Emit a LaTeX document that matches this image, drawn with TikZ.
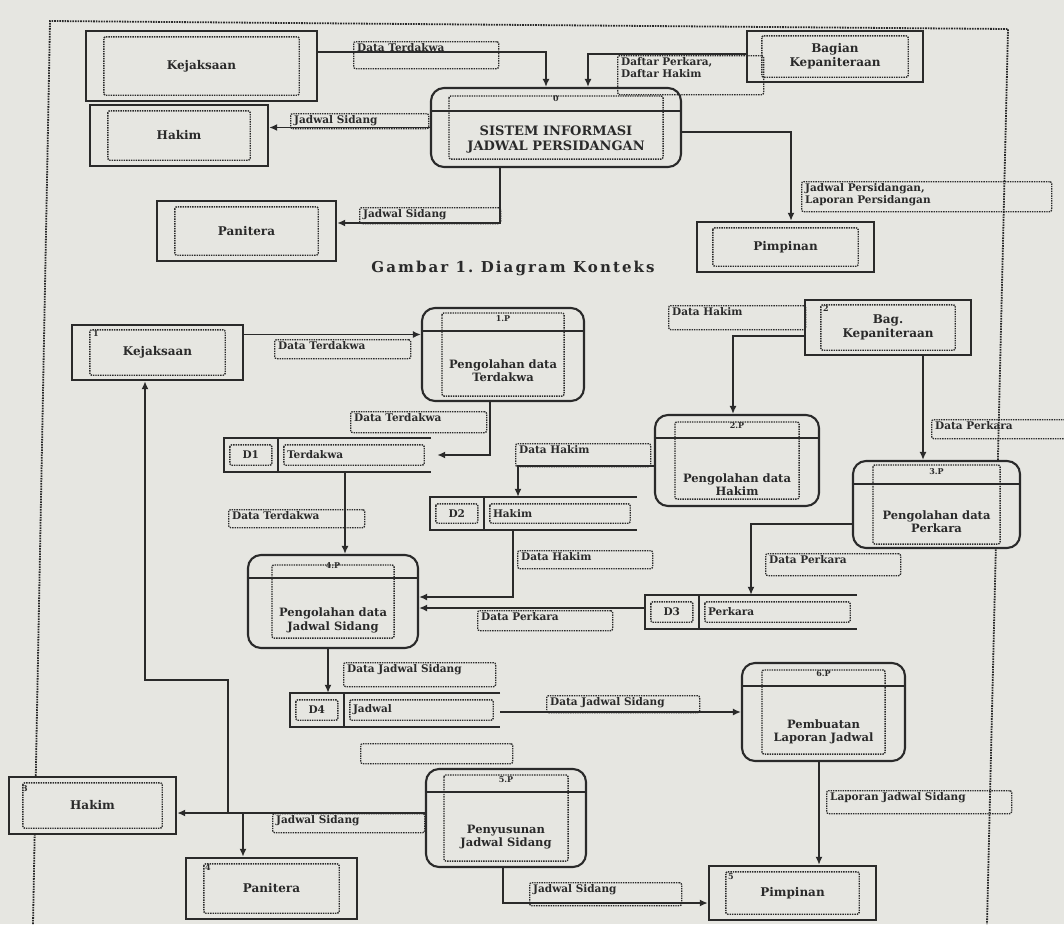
\documentclass[tikz,border=0pt]{standalone}
\usepackage{fontspec}
\setmainfont{DejaVu Serif}
\newfontfamily\capfont[LetterSpace=14]{DejaVu Serif}
\usetikzlibrary{arrows.meta,positioning}
\definecolor{paper}{HTML}{E6E6E1}
\definecolor{ink}{HTML}{2A2A2A}
\newcommand\dotin[3]{\draw[inbox] ([shift={(#2,#3)}]#1.north west) rectangle ([shift={(-#2,-#3)}]#1.south east);}
\newcommand\prochead[2]{\draw[ink,line width=1.5pt] ([yshift=-24pt]#1.north west) -- ([yshift=-24pt]#1.north east);\node[hd] (#1h) at ([yshift=-12pt]#1.north) {#2};}
\newcommand\store[3]{\draw[ink,line width=1.7pt] (#1.north east) -- (#1.north west) -- (#1.south west) -- (#1.south east);\draw[ink,line width=1.7pt] ([xshift=54pt]#1.north west) -- ([xshift=54pt]#1.south west);\draw[inbox] ([shift={(6,7)}]#1.north west) rectangle ([shift={(48,-7)}]#1.south west);\draw[inbox] ([shift={(60,7)}]#1.north west) rectangle ([shift={(-7,-7)}]#1.south east);\node[stx] (#1i) at ([xshift=27pt]#1.west) {#2};\node[stx,anchor=west] (#1n) at ([xshift=62pt]#1.west) {#3};}
\newcommand\lab[6]{\node[lbl,minimum width=#4pt,minimum height=#5pt] (#1) at (#2,#3) {};\node[ltx] (#1t) at ([shift={(3,1)}]#1.north west) {#6};}

\begin{document}
\begin{tikzpicture}[x=1pt,y=-1pt,
  ent/.style={draw=ink,fill=paper,line width=2.4pt,inner sep=0pt,align=center,text=ink,font=\fontsize{12}{14}\selectfont\bfseries},
  proc/.style={draw=ink,fill=paper,line width=2.1pt,rounded corners=13pt,inner sep=0pt},
  ptx/.style={align=center,text=ink,inner sep=1pt,font=\fontsize{11.5}{13.5}\selectfont\bfseries},
  hd/.style={text=ink,inner sep=1pt,font=\fontsize{8}{9}\selectfont\bfseries},
  num/.style={text=ink,inner sep=0pt,font=\fontsize{8}{9}\selectfont\bfseries},
  stx/.style={text=ink,inner sep=1pt,font=\fontsize{10.5}{12}\selectfont\bfseries},
  ds/.style={inner sep=0pt},
  inbox/.style={draw=ink,dash pattern=on 1.4pt off 1pt,line width=1.4pt,rounded corners=2pt},
  lbl/.style={draw=ink,dash pattern=on 1.4pt off 1pt,line width=1.3pt,rounded corners=2pt,anchor=north west,inner sep=0pt},
  ltx/.style={anchor=north west,align=left,text=ink,inner sep=1pt,font=\fontsize{10.5}{12}\selectfont\bfseries},
  frame/.style={draw=ink,dash pattern=on 1.6pt off 1pt,line width=1.8pt},
  flow/.style={draw=ink,line width=1.6pt,-{Latex[length=8pt,width=7pt]}}]
\fill[paper] (0,0) rectangle (1064,924);
\useasboundingbox (0,0) rectangle (1064,924);
\draw[frame] (33,924) -- (50,21) -- (1008,29) -- (987,924);

\node[ent,minimum width=231pt,minimum height=70pt] (kej) at (201.5,66) {Kejaksaan};
\node[ent,minimum width=178pt,minimum height=61pt] (hak) at (179,135.5) {Hakim};
\node[proc,minimum width=250pt,minimum height=79pt] (sys) at (556,127.5) {};
\node[ent,minimum width=176pt,minimum height=51pt] (bag) at (835,56.5) {Bagian\\Kepaniteraan};
\node[ent,minimum width=179pt,minimum height=60pt] (pan) at (246.5,231) {Panitera};
\node[ent,minimum width=177pt,minimum height=50pt] (pim) at (785.5,247) {Pimpinan};
\dotin{kej}{19}{7}\dotin{hak}{19}{7}\dotin{bag}{16}{6}\dotin{pan}{19}{7}\dotin{pim}{17}{7}\dotin{sys}{19}{9}
\prochead{sys}{0}
\node[ptx,font=\fontsize{13}{15}\selectfont\bfseries] (syst) at ([yshift=-12pt]sys.center) {SISTEM INFORMASI\\JADWAL PERSIDANGAN};
\node[text=ink,inner sep=0pt,font=\capfont\fontsize{15}{17}\selectfont\bfseries] (cap) at (513,268) {Gambar 1.~Diagram Konteks};

\lab{l1}{353}{41}{145}{27}{Data Terdakwa}
\lab{l2}{617}{55}{146}{39}{Daftar Perkara,\\Daftar Hakim}
\lab{l3}{290}{113}{138}{15}{Jadwal Sidang}
\lab{l4}{359}{207}{141}{16}{Jadwal Sidang}
\lab{l5}{801}{181}{250}{30}{Jadwal Persidangan,\\Laporan Persidangan}
\draw[flow] ([yshift=14pt]kej.east) -| ([xshift=-10pt]sys.north);
\draw[flow] ([yshift=2.5pt]bag.west) -| ([xshift=32pt]sys.north);
\draw[flow] (sys.west) -- (sys.west -| hak.east);
\draw[flow] ([xshift=-56pt]sys.south) |- ([yshift=8pt]pan.east);
\draw[flow] ([yshift=-4.5pt]sys.east) -| ([xshift=5.5pt]pim.north);

\node[ent,minimum width=171pt,minimum height=55pt] (kej1) at (157.5,352.5) {Kejaksaan};
\node[ent,minimum width=166pt,minimum height=55pt] (bag1) at (888,327.5) {Bag.\\Kepaniteraan};
\node[ent,minimum width=167pt,minimum height=57pt] (hak1) at (92.5,805.5) {Hakim};
\node[ent,minimum width=171pt,minimum height=61pt] (pan1) at (271.5,888.5) {Panitera};
\node[ent,minimum width=167pt,minimum height=54pt] (pim1) at (792.5,893) {Pimpinan};
\dotin{kej1}{19}{6}\dotin{bag1}{17}{6}\dotin{hak1}{15}{7}\dotin{pan1}{19}{7}\dotin{pim1}{18}{7}
\node[num] (kej1c) at ([shift={(25,10)}]kej1.north west) {1};
\node[num] (bag1c) at ([shift={(22,10)}]bag1.north west) {2};
\node[num] (hak1c) at ([shift={(17,13)}]hak1.north west) {3};
\node[num] (pan1c) at ([shift={(23,11)}]pan1.north west) {4};
\node[num] (pim1c) at ([shift={(23,12)}]pim1.north west) {5};

\node[proc,minimum width=162pt,minimum height=93pt] (p1) at (503,354.5) {};
\node[proc,minimum width=164pt,minimum height=91pt] (p2) at (737,460.5) {};
\node[proc,minimum width=167pt,minimum height=87pt] (p3) at (936.5,504.5) {};
\node[proc,minimum width=170pt,minimum height=93pt] (p4) at (333,601.5) {};
\node[proc,minimum width=160pt,minimum height=98pt] (p5) at (506,818) {};
\node[proc,minimum width=163pt,minimum height=98pt] (p6) at (823.5,712) {};
\dotin{p1}{21}{6}\dotin{p2}{21}{8}\dotin{p3}{21}{5}\dotin{p4}{25}{11}\dotin{p5}{19}{7}\dotin{p6}{21}{8}
\prochead{p1}{1.P}\prochead{p2}{2.P}\prochead{p3}{3.P}\prochead{p4}{4.P}\prochead{p5}{5.P}\prochead{p6}{6.P}
\node[ptx] (p1t) at ([yshift=-16pt]p1.center) {Pengolahan data\\Terdakwa};
\node[ptx] (p2t) at ([yshift=-24pt]p2.center) {Pengolahan data\\Hakim};
\node[ptx] (p3t) at ([yshift=-17pt]p3.center) {Pengolahan data\\Perkara};
\node[ptx] (p4t) at ([yshift=-19pt]p4.center) {Pengolahan data\\Jadwal Sidang};
\node[ptx] (p5t) at ([yshift=-19pt]p5.center) {Penyusunan\\Jadwal Sidang};
\node[ptx] (p6t) at ([yshift=-20pt]p6.center) {Pembuatan\\Laporan Jadwal};

\node[ds,minimum width=207pt,minimum height=34pt] (d1) at (327.5,455) {};
\node[ds,minimum width=207pt,minimum height=33pt] (d2) at (533.5,513.5) {};
\node[ds,minimum width=212pt,minimum height=34pt] (d3) at (751,612) {};
\node[ds,minimum width=210pt,minimum height=34pt] (d4) at (395,710) {};
\store{d1}{D1}{Terdakwa}\store{d2}{D2}{Hakim}\store{d3}{D3}{Perkara}\store{d4}{D4}{Jadwal}

\lab{l6}{274}{339}{136}{19}{Data Terdakwa}
\lab{l7}{350}{411}{136}{21}{Data Terdakwa}
\lab{l8}{668}{305}{137}{24}{Data Hakim}
\lab{l9}{931}{419}{140}{19}{Data Perkara}
\lab{l10}{515}{443}{135}{23}{Data Hakim}
\lab{l11}{228}{509}{136}{18}{Data Terdakwa}
\lab{l12}{517}{550}{135}{18}{Data Hakim}
\lab{l13}{765}{553}{135}{22}{Data Perkara}
\lab{l14}{477}{610}{135}{20}{Data Perkara}
\lab{l15}{343}{662}{152}{24}{Data Jadwal Sidang}
\lab{l16}{546}{695}{153}{17}{Data Jadwal Sidang}
\lab{l17}{826}{790}{185}{23}{Laporan Jadwal Sidang}
\node[lbl,minimum width=152pt,minimum height=20pt] (l18) at (360,743) {};
\lab{l19}{272}{813}{152}{19}{Jadwal Sidang}
\lab{l20}{529}{882}{152}{23}{Jadwal Sidang}

\coordinate (j1) at (228,813);\coordinate (j2) at (243,813);\coordinate (k1) at (228,680);
\draw[flow] ([yshift=18pt]kej1.east) -- ([yshift=18pt]kej1.east -| p1.west);
\draw[flow] ([xshift=-13pt]p1.south) |- ([xshift=6pt]d1.east);
\draw[flow] ([yshift=-8.5pt]bag1.west) -| ([xshift=-4pt]p2.north);
\draw[flow] ([xshift=35pt]bag1.south) -- ([xshift=35pt]bag1.south |- p3.north);
\draw[flow] ([yshift=-5.5pt]p2.west) -| ([xshift=-15.5pt]d2.north);
\draw[flow] ([xshift=17.5pt]d1.south) -- ([xshift=17.5pt]d1.south |- p4.north);
\draw[flow] ([xshift=-20.5pt]d2.south) |- ([yshift=4.5pt]p4.east);
\draw[flow] ([yshift=-19.5pt]p3.west) -| (d3.north);
\draw[flow] ([yshift=4pt]d3.west) -- ([yshift=4pt]d3.west -| p4.east);
\draw[flow] ([xshift=-5pt]p4.south) -- ([xshift=-5pt]p4.south |- d4.north);
\draw[flow] ([yshift=-2pt]d4.east) -- ([yshift=-2pt]d4.east -| p6.west);
\draw[flow] ([xshift=-4.5pt]p6.south) -- ([xshift=-4.5pt]p6.south |- pim1.north);
\draw[flow] ([yshift=5pt]p5.west) -- ([yshift=5pt]p5.west -| hak1.east);
\draw[flow] (j1) -- (k1) -| ([xshift=-12.5pt]kej1.south);
\draw[flow] (j2) -- (j2 |- pan1.north);
\draw[flow] ([xshift=-3pt]p5.south) |- ([yshift=-10pt]pim1.west);
\end{tikzpicture}
\end{document}
